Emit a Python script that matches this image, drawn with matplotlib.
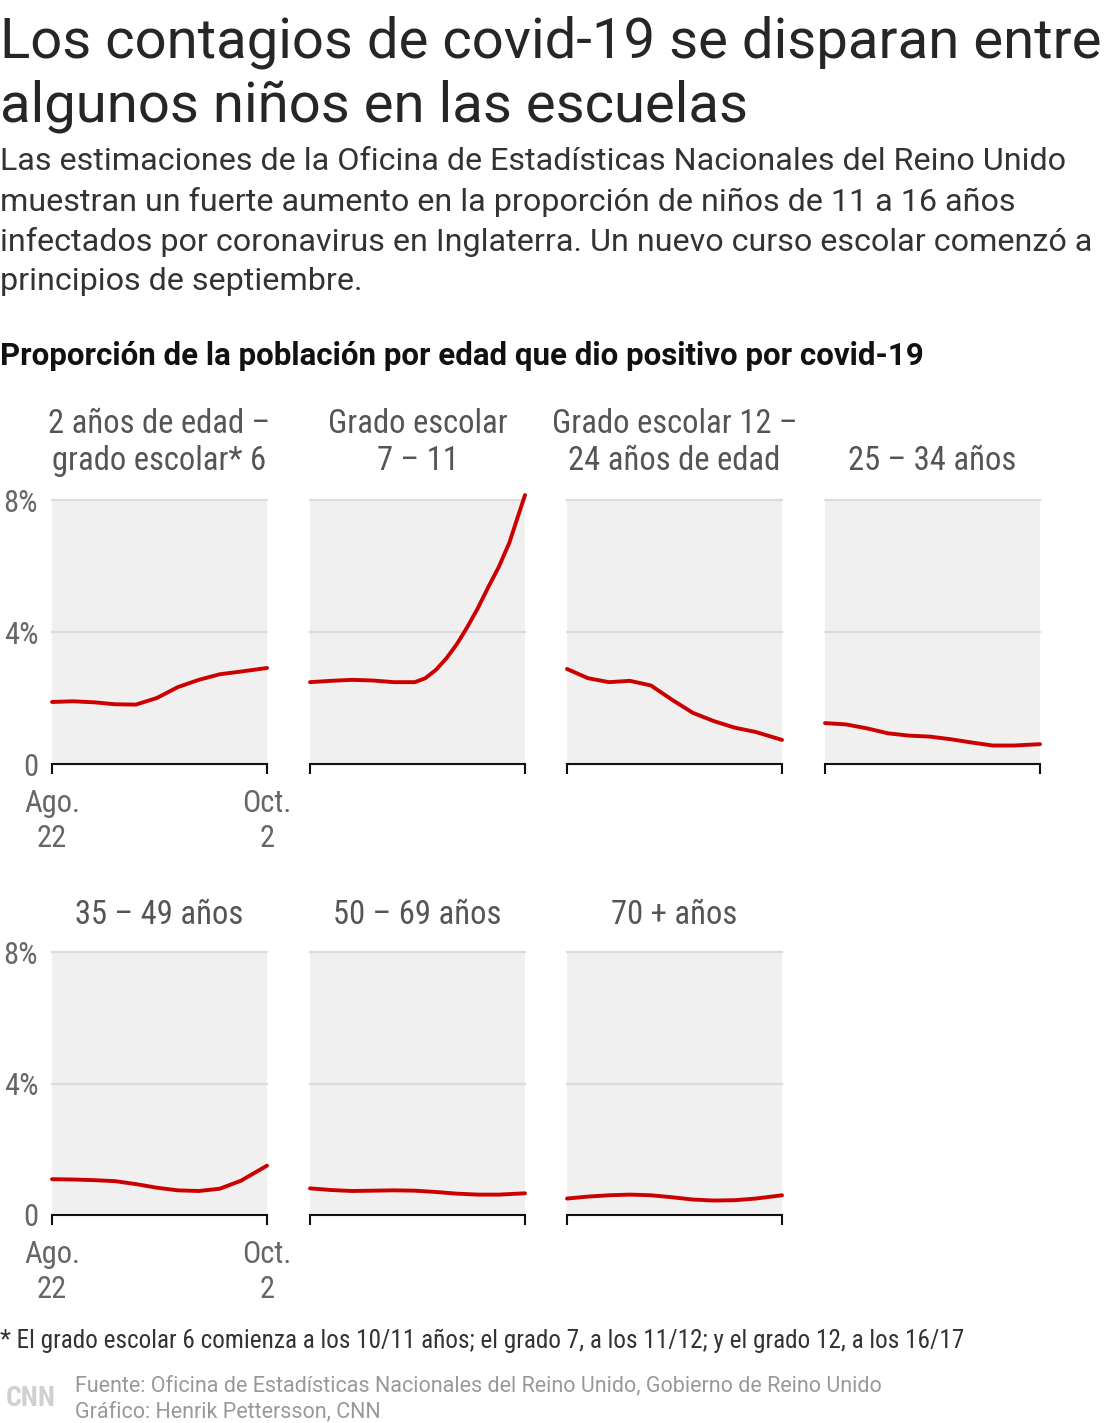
import numpy as np
import matplotlib
matplotlib.use("Agg")
import matplotlib.pyplot as plt
from matplotlib import font_manager

W, H = 1110, 1423

# days since Aug. 22 (last point = Oct. 2)
days = [0, 4, 8, 12, 16, 20, 24, 28, 32, 36, 41]
days_gr7 = [0, 4, 8, 12, 16, 20, 22, 24, 26, 28, 30, 32, 34, 36, 38, 41]

titles = [
    "2 años de edad –\ngrado escolar* 6",
    "Grado escolar\n7 – 11",
    "Grado escolar 12 –\n24 años de edad",
    "25 – 34 años",
    "35 – 49 años",
    "50 – 69 años",
    "70 + años",
]

# percent of population testing positive
age_2_gr6 = [1.88, 1.90, 1.87, 1.81, 1.80, 2.00, 2.33, 2.55, 2.72, 2.80, 2.91]
gr7_11 = [2.48, 2.52, 2.55, 2.53, 2.48, 2.48, 2.60, 2.85, 3.20, 3.63, 4.15,
          4.72, 5.36, 5.97, 6.70, 8.15]
gr12_24 = [2.88, 2.60, 2.48, 2.52, 2.38, 1.95, 1.55, 1.30, 1.10, 0.97, 0.73]
age_25_34 = [1.24, 1.20, 1.08, 0.93, 0.86, 0.83, 0.75, 0.65, 0.56, 0.56, 0.60]
age_35_49 = [1.09, 1.08, 1.06, 1.03, 0.94, 0.83, 0.75, 0.73, 0.80, 1.04, 1.50]
age_50_69 = [0.81, 0.76, 0.73, 0.74, 0.75, 0.74, 0.70, 0.65, 0.62, 0.62, 0.66]
age_70 = [0.50, 0.56, 0.60, 0.62, 0.60, 0.54, 0.47, 0.44, 0.45, 0.50, 0.60]

series = [age_2_gr6, gr7_11, gr12_24, age_25_34, age_35_49, age_50_69, age_70]
series_days = [days, days_gr7, days, days, days, days, days]

y_ticks = [0, 4, 8]
y_tick_labels = ["0", "4%", "8%"]
x_tick_labels = ["Ago.\n22", "Oct.\n2"]

avail = {f.name for f in font_manager.fontManager.ttflist}


def pick(cands):
    for c in cands:
        if c in avail:
            return [c, "DejaVu Sans"]
    return ["DejaVu Sans"]


NARROW = pick(["Roboto Condensed", "Archivo Narrow", "Liberation Sans Narrow",
               "PT Sans Narrow", "Fira Sans Condensed", "IBM Plex Sans Condensed"])
SANS = pick(["Roboto", "Open Sans"])
RED = "#cc0000"

fig = plt.figure(figsize=(W / 100, H / 100), dpi=100)
fig.patch.set_facecolor("white")


def ftext(x, y, s, **kw):
    return fig.text(x / W, 1 - y / H, s, **kw)


# headline + intro
ftext(0, 42, "Los contagios de covid-19 se disparan entre", fontsize=40.5,
      family=SANS, color="#262626", va="center", ha="left")
ftext(0, 106, "algunos niños en las escuelas", fontsize=40.5,
      family=SANS, color="#262626", va="center", ha="left")
intro = ["Las estimaciones de la Oficina de Estadísticas Nacionales del Reino Unido",
         "muestran un fuerte aumento en la proporción de niños de 11 a 16 años",
         "infectados por coronavirus en Inglaterra. Un nuevo curso escolar comenzó a",
         "principios de septiembre."]
for i, line in enumerate(intro):
    ftext(0, 162 + 40 * i, line, fontsize=23.2, family=SANS,
          color="#333333", va="center", ha="left")
ftext(0, 356, "Proporción de la población por edad que dio positivo por covid-19",
      fontsize=22.5, family=SANS, weight="bold", color="#111111",
      va="center", ha="left")

# panel positions in pixels: left, right, top (8%), bottom (0)
lefts = [52, 310, 567, 825]
pw = 215
rows = [(500, 764), (952, 1215)]
title_y = [477, 931]

for i, vals in enumerate(series):
    row, col = divmod(i, 4)
    x0 = lefts[col]
    top, bot = rows[row]
    ax = fig.add_axes([x0 / W, 1 - bot / H, pw / W, (bot - top) / H])
    ax.set_facecolor("#f0f0f0")
    ax.set_xlim(0, 41)
    ax.set_ylim(0, 8)
    for g in [4, 8]:
        ax.axhline(g, color="#dcdcdc", lw=1.6, clip_on=False, zorder=1)
    ax.plot(series_days[i], vals, color=RED, lw=2.8, clip_on=False, zorder=3,
            solid_capstyle="round", solid_joinstyle="round")
    for s in ["top", "left", "right"]:
        ax.spines[s].set_visible(False)
    ax.spines["bottom"].set_color("#111111")
    ax.spines["bottom"].set_linewidth(1.5)
    ax.spines["bottom"].set_zorder(4)
    ax.set_xticks([0, 41])
    ax.tick_params(axis="x", direction="out", length=7, width=1.5,
                   color="#111111", pad=11)
    ax.set_yticks(y_ticks)
    ax.tick_params(axis="y", length=0, pad=10)
    if col == 0:
        ax.set_xticklabels(x_tick_labels, fontsize=22, color="#666666",
                           family=NARROW, linespacing=1.25)
        ax.set_yticklabels(y_tick_labels, fontsize=22, color="#666666",
                           family=NARROW)
    else:
        ax.set_xticklabels([])
        ax.set_yticklabels([])
    # panel title
    ftext(x0 + pw / 2, title_y[row], titles[i], fontsize=23.5, family=NARROW,
          color="#555555", ha="center", va="bottom", linespacing=1.2)

# footnote and source
ftext(0, 1341, "* El grado escolar 6 comienza a los 10/11 años; el grado 7, a los 11/12; "
      "y el grado 12, a los 16/17", fontsize=18.2, family=NARROW, color="#333333",
      va="center", ha="left")
ftext(6, 1398, "CNN", fontsize=20, family=NARROW, weight="bold", color="#d0d0d0",
      va="center", ha="left")
ftext(75, 1386, "Fuente: Oficina de Estadísticas Nacionales del Reino Unido, Gobierno de Reino Unido",
      fontsize=15.5, family=SANS, color="#999999", va="center", ha="left")
ftext(75, 1412, "Gráfico: Henrik Pettersson, CNN",
      fontsize=15.5, family=SANS, color="#999999", va="center", ha="left")

fig.savefig("out.png", dpi=100, facecolor="white")
